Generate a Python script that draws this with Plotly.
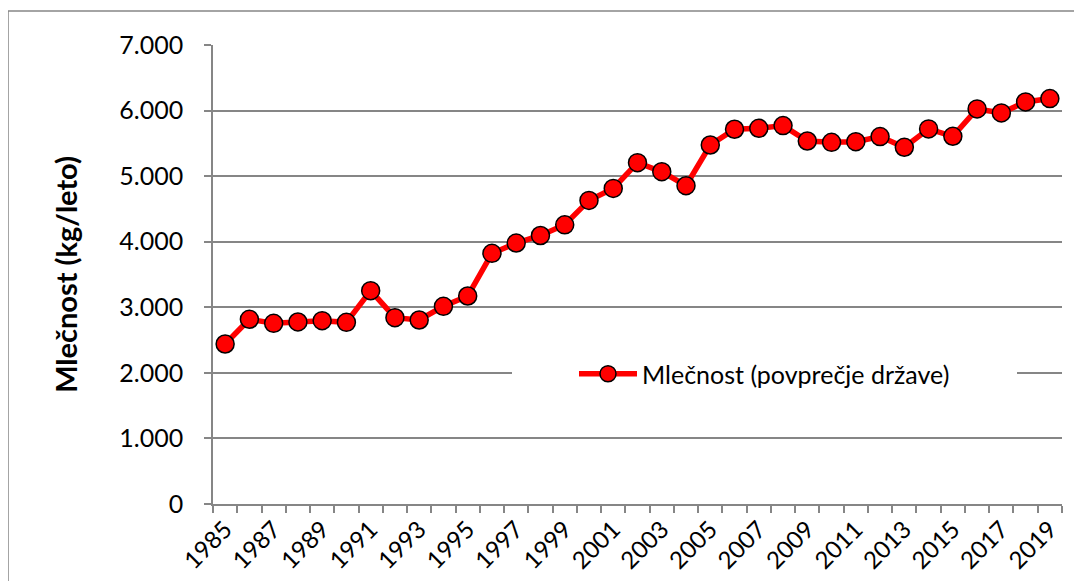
import plotly.graph_objects as go

years = [str(y) for y in range(1985, 2020)]
milk = [2440, 2817, 2755, 2776, 2796, 2771, 3254, 2842, 2806, 3015, 3172, 3823, 3980,
        4095, 4258, 4630, 4813, 5205, 5068, 4854, 5475, 5715, 5730, 5771, 5536, 5516,
        5526, 5603, 5440, 5720, 5608, 6025, 5964, 6132, 6183]
tick_text = [y if int(y) % 2 == 1 else "" for y in years]
series_name = "Mlečnost (povprečje države)"
y_title = "Mlečnost (kg/leto)"

FONT = "Lato"
GRID = "#868686"

OFF = 8  # default body margin of the html page
W, H = 1082 - OFF, 581 - OFF
# plot area in page pixels: x 213..1062, y 45..504
L, R, T, B = 213 - OFF, 1082 - 1062, 45 - OFF, 581 - 504
PW, PH = W - L - R, H - T - B


def px(x):  # page pixel -> paper x
    return (x - OFF - L) / PW


def py(y):  # page pixel -> paper y
    return (H - B - (y - OFF)) / PH


fig = go.Figure()
fig.add_trace(go.Scatter(
    x=years, y=milk, mode="lines+markers", name=series_name,
    line=dict(color="#FF0000", width=5.5),
    marker=dict(size=18, color="#FF0000", line=dict(color="black", width=1.5)),
    showlegend=True,
))

shapes = [
    # white band behind legend, interrupting the 2.000 gridline
    dict(type="rect", xref="paper", yref="paper", layer="above",
         x0=px(512), x1=px(1017), y0=py(392), y1=py(356),
         fillcolor="white", line=dict(width=0)),
    # outer chart border (top & left visible)
    dict(type="rect", xref="paper", yref="paper", layer="above",
         x0=px(8), x1=px(1100), y0=py(600), y1=py(11),
         fillcolor="rgba(0,0,0,0)", line=dict(color=GRID, width=1.5)),
]

fig.update_layout(
    width=W, height=H,
    margin=dict(l=L, r=R, t=T, b=B, autoexpand=False),
    paper_bgcolor="white", plot_bgcolor="white",
    separators=",.",
    font=dict(family=FONT, size=24, color="black"),
    showlegend=True,
    legend=dict(x=px(574), y=py(374), xanchor="left", yanchor="middle",
                bgcolor="rgba(0,0,0,0)", font=dict(family=FONT, size=25, color="black"),
                itemwidth=58, tracegroupgap=0),
    shapes=shapes,
    xaxis=dict(
        type="category", tickmode="array", tickvals=years, ticktext=tick_text,
        tickson="boundaries", ticks="outside", ticklen=7, tickcolor=GRID, tickwidth=1.5,
        tickangle=-45, showgrid=False, showline=True, linecolor=GRID, linewidth=1.5,
        tickfont=dict(family=FONT, size=24), range=[-0.5, len(years) - 0.5],
        automargin=False,
    ),
    yaxis=dict(
        range=[0, 7000], dtick=1000, tick0=0, tickformat=",d",
        showgrid=True, gridcolor=GRID, gridwidth=1.5,
        ticks="outside", ticklen=7, tickcolor=GRID, tickwidth=1.5,
        showline=True, linecolor=GRID, linewidth=1.5, zeroline=False,
        tickfont=dict(family=FONT, size=25), ticklabelstandoff=16,
        title=dict(text=y_title, font=dict(family=FONT, size=29, weight="bold"), standoff=33),
        automargin=False,
    ),
)

fig.write_html("out.html")
